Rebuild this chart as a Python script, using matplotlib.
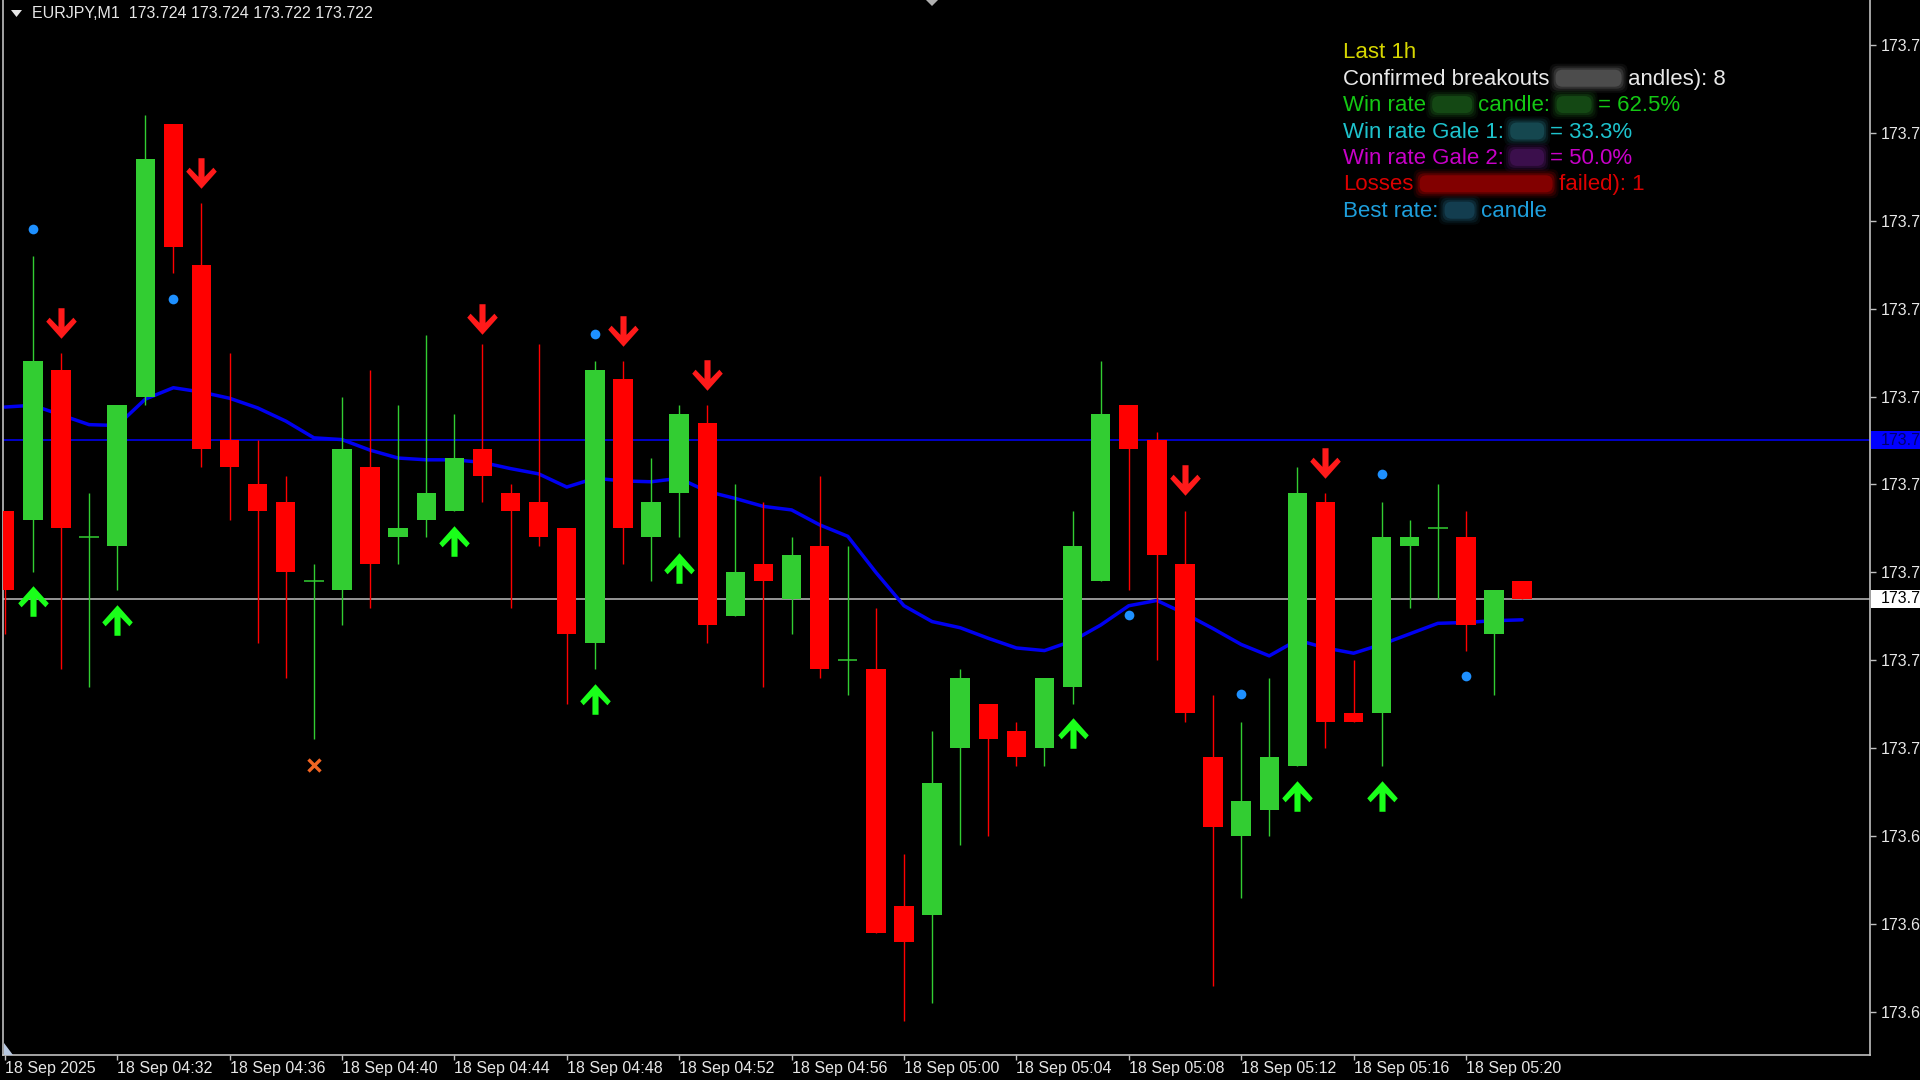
import matplotlib
matplotlib.use("Agg")
import matplotlib.pyplot as plt
from matplotlib.path import Path
from matplotlib.patches import FancyBboxPatch, Polygon
from matplotlib.transforms import IdentityTransform

plt.rcParams['font.family'] = ['Liberation Sans', 'DejaVu Sans']

# ---------------- data ----------------
title_text = "EURJPY,M1  173.724 173.724 173.722 173.722"

bar_index = list(range(55))
opens = [173.732, 173.731, 173.748, 173.729, 173.728, 173.745, 173.776, 173.760, 173.740, 173.735,
         173.733, 173.724, 173.723, 173.737, 173.729, 173.731, 173.732, 173.739, 173.734, 173.733,
         173.730, 173.717, 173.747, 173.729, 173.734, 173.742, 173.720, 173.726, 173.722, 173.728,
         173.715, 173.714, 173.687, 173.686, 173.705, 173.710, 173.707, 173.705, 173.712, 173.724,
         173.744, 173.740, 173.726, 173.704, 173.695, 173.698, 173.703, 173.733, 173.709, 173.709,
         173.728, 173.730, 173.729, 173.718, 173.724]
highs = [173.732, 173.761, 173.750, 173.734, 173.744, 173.777, 173.776, 173.767, 173.750, 173.740,
         173.736, 173.726, 173.745, 173.748, 173.744, 173.752, 173.743, 173.751, 173.735, 173.751,
         173.730, 173.749, 173.749, 173.738, 173.744, 173.744, 173.735, 173.733, 173.729, 173.736,
         173.728, 173.721, 173.693, 173.707, 173.714, 173.710, 173.708, 173.713, 173.732, 173.749,
         173.744, 173.741, 173.732, 173.711, 173.708, 173.713, 173.737, 173.734, 173.715, 173.733,
         173.731, 173.735, 173.732, 173.723, 173.724]
lows = [173.718, 173.725, 173.714, 173.712, 173.723, 173.744, 173.759, 173.737, 173.731, 173.717,
        173.713, 173.706, 173.719, 173.721, 173.726, 173.729, 173.732, 173.733, 173.721, 173.728,
        173.710, 173.714, 173.726, 173.724, 173.729, 173.717, 173.720, 173.712, 173.718, 173.713,
        173.711, 173.684, 173.674, 173.676, 173.694, 173.695, 173.703, 173.703, 173.710, 173.724,
        173.723, 173.715, 173.708, 173.678, 173.688, 173.695, 173.703, 173.705, 173.708, 173.703,
        173.721, 173.722, 173.716, 173.711, 173.722]
closes = [173.723, 173.749, 173.730, 173.729, 173.744, 173.772, 173.762, 173.739, 173.737, 173.732,
          173.725, 173.724, 173.739, 173.726, 173.730, 173.734, 173.738, 173.736, 173.732, 173.729,
          173.718, 173.748, 173.730, 173.733, 173.743, 173.719, 173.725, 173.724, 173.727, 173.714,
          173.715, 173.684, 173.683, 173.701, 173.713, 173.706, 173.704, 173.713, 173.728, 173.743,
          173.739, 173.727, 173.709, 173.696, 173.699, 173.704, 173.734, 173.708, 173.708, 173.729,
          173.729, 173.730, 173.719, 173.723, 173.722]

ma_values = [173.7438, 173.7440, 173.7429, 173.7418, 173.7417, 173.7447, 173.7460, 173.7455, 173.7448, 173.7437,
             173.7422, 173.7403, 173.7401, 173.7389, 173.7380, 173.7378, 173.7378, 173.7375, 173.7368, 173.7362,
             173.7347, 173.7357, 173.7354, 173.7353, 173.7357, 173.7342, 173.7334, 173.7325, 173.7321, 173.7304,
             173.7291, 173.7250, 173.7212, 173.7194, 173.7187, 173.7175, 173.7164, 173.7161, 173.7172, 173.7190,
             173.7212, 173.7218, 173.7203, 173.7186, 173.7168, 173.7155, 173.7173, 173.7164, 173.7158, 173.7168,
             173.7180, 173.7192, 173.7193, 173.7195, 173.7196]

down_idx = [2, 7, 17, 22, 25, 42, 47]
down_price = [173.7534, 173.7704, 173.7538, 173.7524, 173.7474, 173.7355, 173.7374]
up_idx = [1, 4, 16, 21, 24, 38, 46, 49]
up_price = [173.7217, 173.7196, 173.7286, 173.7106, 173.7255, 173.7067, 173.6996, 173.6996]
dot_idx = [1, 6, 21, 40, 44, 49, 52]
dot_price = [173.7641, 173.7561, 173.7521, 173.7202, 173.7112, 173.7362, 173.7132]
cross_idx = [11]
cross_price = [173.7031]

hline_level = 173.740
bid_level = 173.722

ytick_values = [173.675, 173.685, 173.695, 173.705, 173.715, 173.725,
                173.735, 173.745, 173.755, 173.765, 173.775, 173.785]
ytick_labels = ["173.6", "173.6", "173.6", "173.7", "173.7", "173.7",
                "173.7", "173.7", "173.7", "173.7", "173.7", "173.7"]
xtick_index = [0, 4, 8, 12, 16, 20, 24, 28, 32, 36, 40, 44, 48, 52]
xtick_labels = ["18 Sep 2025", "18 Sep 04:32", "18 Sep 04:36", "18 Sep 04:40", "18 Sep 04:44",
                "18 Sep 04:48", "18 Sep 04:52", "18 Sep 04:56", "18 Sep 05:00", "18 Sep 05:04",
                "18 Sep 05:08", "18 Sep 05:12", "18 Sep 05:16", "18 Sep 05:20"]

# info panel: each line is a list of segments ("t", text, color) or ("b", blur width px, color)
info_lines = [
    [("t", "Last 1h", "#D6D600")],
    [("t", "Confirmed breakouts", "#E8E8E8"), ("b", 66, "#5E5E5E"), ("t", "andles): 8", "#E8E8E8")],
    [("t", "Win rate", "#14C814"), ("b", 40, "#1A5A1A"), ("t", "candle:", "#14C814"),
     ("b", 35, "#1A5A1A"), ("t", "= 62.5%", "#14C814")],
    [("t", "Win rate Gale 1:", "#1EC3CD"), ("b", 34, "#1B5862"), ("t", "= 33.3%", "#1EC3CD")],
    [("t", "Win rate Gale 2:", "#C800C8"), ("b", 34, "#4A145E"), ("t", "= 50.0%", "#C800C8")],
    [("t", "Losses", "#DC0000"), ("b", 133, "#A00000"), ("t", "failed): 1", "#DC0000")],
    [("t", "Best rate:", "#1E9FDC"), ("b", 30, "#184C62"), ("t", "candle", "#1E9FDC")],
]

# ---------------- figure ----------------
W, H = 1920, 1080
fig = plt.figure(figsize=(W / 100, H / 100), dpi=100, facecolor="black")
ax = fig.add_axes([3 / W, 25 / H, 1867 / W, 1055 / H])
ax.set_facecolor("black")
ax.set_xlim(-0.064, 66.38)
ax.set_ylim(173.6701, 173.7901)

bull, bear = "#32CD32", "#FF0000"

# horizontal lines (behind candles)
ax.axhline(hline_level, color="#0000FF", lw=1.1, zorder=1)
ax.axhline(bid_level, color="#BEBEBE", lw=1.1, zorder=1)

# moving average
ax.plot(bar_index, ma_values, color="#0000F0", lw=2.5, zorder=2, solid_capstyle="round")

# candles
body_w = 0.69
for i, o, h, l, c in zip(bar_index, opens, highs, lows, closes):
    col = bull if c >= o else bear
    ax.vlines(i, l, h, colors=col, lw=1.0, zorder=3)
    if abs(c - o) < 1e-9:
        ax.hlines(o, i - body_w / 2, i + body_w / 2, colors=col, lw=1.1, zorder=4)
    else:
        ax.bar(i, abs(c - o), bottom=min(o, c), width=body_w, color=col, linewidth=0, zorder=4)

# arrow markers
down_verts = [(-0.2, 1.0), (0.2, 1.0), (0.2, -0.22), (0.78, 0.38), (1.0, 0.12), (0.0, -1.0),
              (-1.0, 0.12), (-0.78, 0.38), (-0.2, -0.22), (-0.2, 1.0)]
up_verts = [(x, -y) for x, y in down_verts]
down_marker = Path(down_verts, closed=True)
up_marker = Path(up_verts, closed=True)
ax.plot(down_idx, down_price, linestyle="none", marker=down_marker, markersize=22,
        color="#FF1A1A", markeredgewidth=0, zorder=5)
ax.plot(up_idx, up_price, linestyle="none", marker=up_marker, markersize=22,
        color="#1AFF1A", markeredgewidth=0, zorder=5)
ax.plot(dot_idx, dot_price, linestyle="none", marker="o", markersize=7,
        color="#1E90FF", markeredgewidth=0, zorder=5)
ax.plot(cross_idx, cross_price, linestyle="none", marker="x", markersize=9,
        color="#F26522", markeredgewidth=2.4, zorder=5)

# frame
for side in ["left", "bottom", "right"]:
    ax.spines[side].set_color("#C0C0C0")
    ax.spines[side].set_linewidth(1.2)
ax.spines["top"].set_visible(False)

ax.yaxis.tick_right()
ax.set_yticks(ytick_values)
ax.set_yticklabels(ytick_labels)
ax.tick_params(axis="y", direction="out", length=4.5, width=1, color="#C0C0C0",
               labelcolor="#E6E6E6", labelsize=11.5, pad=3)
for lab in ax.get_yticklabels():
    lab.set_horizontalalignment("left")

ax.set_xticks(xtick_index)
ax.set_xticklabels(xtick_labels, ha="left")
ax.tick_params(axis="x", direction="out", length=3.5, width=1, color="#C0C0C0",
               labelcolor="#E6E6E6", labelsize=11.5, pad=1)

# price boxes on the right scale (figure level, on top of the axes)
def price_box(level, face, txtcol):
    ydisp = ax.transData.transform((0, level))[1]
    fig.patches.append(Polygon([(1871, ydisp + 9), (1920, ydisp + 9), (1920, ydisp - 9), (1871, ydisp - 9)],
                               closed=True, transform=IdentityTransform(), fc=face, ec="none", zorder=11))
    fig.text(1881, ydisp, "173.7", transform=IdentityTransform(), ha="left", va="center",
             fontsize=11.5, color=txtcol, zorder=12)

price_box(hline_level, "#0000FF", "#00006A")
price_box(bid_level, "white", "black")

# title
fig.text(32, H - 14, title_text, transform=IdentityTransform(), ha="left", va="center",
         fontsize=11.5, color="#E6E6E6")
fig.patches.append(Polygon([(11, H - 10), (22, H - 10), (16.5, H - 17)], closed=True,
                           transform=IdentityTransform(), fc="#E6E6E6", ec="none"))
# chart shift markers
fig.patches.append(Polygon([(926, H), (938, H), (932, H - 6)], closed=True,
                           transform=IdentityTransform(), fc="#B0B0B0", ec="none"))
fig.patches.append(Polygon([(4, H - 1043), (4, H - 1055), (13, H - 1055)], closed=True,
                           transform=IdentityTransform(), fc="#B8C8E0", ec="none"))

# info panel
renderer = fig.canvas.get_renderer()
x0 = 1343
base0 = 58.3
step = 26.4
space = 6.2
for k, line in enumerate(info_lines):
    base = base0 + step * k
    x = x0
    for seg in line:
        if seg[0] == "t":
            t = fig.text(x, H - base, seg[1], transform=IdentityTransform(), ha="left",
                         va="baseline", fontsize=16, color=seg[2], zorder=5)
            x += t.get_window_extent(renderer=renderer).width + space
        else:
            w, col = seg[1], seg[2]
            for grow, alpha in [(6, 0.12), (4, 0.2), (2, 0.35), (0, 0.6)]:
                fig.patches.append(FancyBboxPatch((x - grow, H - base - 2 - grow), w + 2 * grow, 17 + 2 * grow,
                                                  boxstyle="round,pad=0,rounding_size=7",
                                                  transform=IdentityTransform(), fc=col, ec="none",
                                                  alpha=alpha, zorder=6))
            x += w + space

fig.savefig("out.png", dpi=100, facecolor="black")
